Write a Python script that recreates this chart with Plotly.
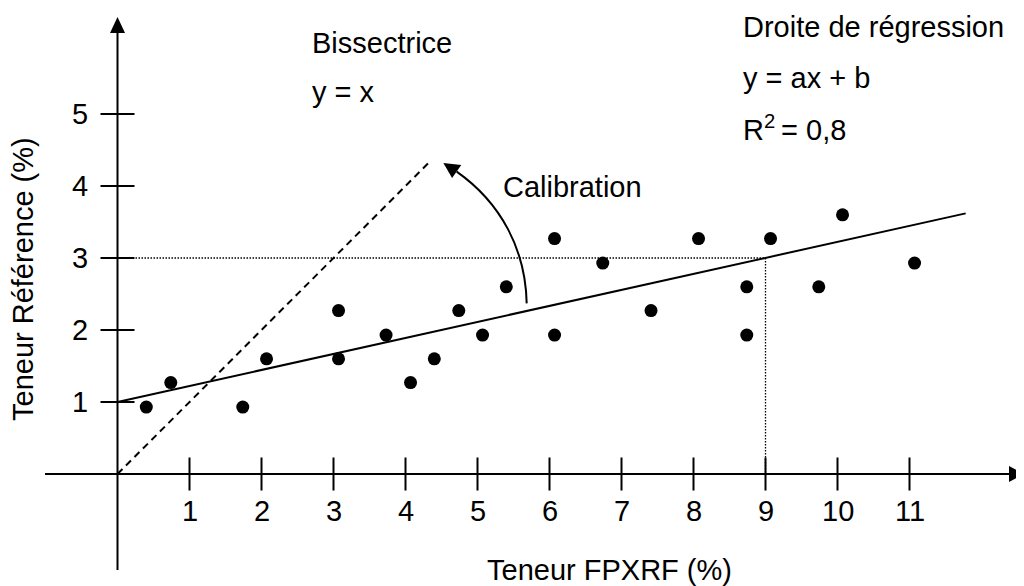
import plotly.graph_objects as go

# ---------------- data ----------------
fpxrf = [0.40, 0.74, 1.74, 2.07, 3.07, 3.07, 3.73, 4.07, 4.40, 4.74, 5.07, 5.40,
         6.07, 6.07, 6.74, 7.41, 8.07, 8.74, 8.74, 9.07, 9.74, 10.07, 11.07]
reference = [0.93, 1.27, 0.93, 1.60, 2.27, 1.60, 1.93, 1.27, 1.60, 2.27, 1.93, 2.60,
             3.27, 1.93, 2.93, 2.27, 3.27, 2.60, 1.93, 3.27, 2.60, 3.60, 2.93]

x_ticks = [1, 2, 3, 4, 5, 6, 7, 8, 9, 10, 11]
x_tick_labels = ["1", "2", "3", "4", "5", "6", "7", "8", "9", "10", "11"]
y_ticks = [1, 2, 3, 4, 5]
y_tick_labels = ["1", "2", "3", "4", "5"]

regression_x = [0.0, 11.78]
regression_y = [1.0, 3.62]
bisector_x = [0.0, 4.33]
bisector_y = [0.0, 4.33]
guide_h_x = [0.0, 9.0]
guide_h_y = [3.0, 3.0]
guide_v_x = [9.0, 9.0]
guide_v_y = [3.0, 0.0]

x_title = "Teneur FPXRF (%)"
y_title = "Teneur Référence (%)"

# ---------------- layout geometry ----------------
PAGE_W, PAGE_H = 1024, 586
OFF = 8  # default page margin around the figure
W, H = PAGE_W - OFF, PAGE_H - OFF
OX, OY, S = 117.5 - OFF, 474.0 - OFF, 72.0  # origin (figure px) and px per unit


def px2x(px):
    """page pixel -> data x"""
    return (px - OFF - OX) / S


def py2y(py):
    """page pixel -> data y"""
    return (OY - (py - OFF)) / S


FONT = dict(family="Liberation Sans, Arial, Helvetica, sans-serif", size=29, color="black")

fig = go.Figure()

# dotted guides
for gx, gy in ((guide_h_x, guide_h_y), (guide_v_x, guide_v_y)):
    fig.add_trace(go.Scatter(x=gx, y=gy, mode="lines",
                             line=dict(color="black", width=1.3, dash="1.5px,1.5px"),
                             hoverinfo="skip", showlegend=False))

# bisector
fig.add_trace(go.Scatter(x=bisector_x, y=bisector_y, mode="lines",
                         line=dict(color="black", width=2, dash="7px,5px"),
                         hoverinfo="skip", showlegend=False))

# regression line
fig.add_trace(go.Scatter(x=regression_x, y=regression_y, mode="lines",
                         line=dict(color="black", width=2),
                         hoverinfo="skip", showlegend=False))

# points
fig.add_trace(go.Scatter(x=fpxrf, y=reference, mode="markers",
                         marker=dict(color="black", size=13, line=dict(width=0)),
                         showlegend=False))

# ticks
fig.add_trace(go.Scatter(x=x_ticks, y=[0] * len(x_ticks), mode="markers",
                         marker=dict(symbol="line-ns-open", size=33 / 1.4, color="black",
                                     line=dict(color="black", width=2)),
                         hoverinfo="skip", showlegend=False))
fig.add_trace(go.Scatter(x=[0] * len(y_ticks), y=y_ticks, mode="markers",
                         marker=dict(symbol="line-ew-open", size=34 / 1.4, color="black",
                                     line=dict(color="black", width=2)),
                         hoverinfo="skip", showlegend=False))

# axes lines
fig.add_shape(type="line", x0=px2x(45), y0=0, x1=px2x(1011), y1=0,
              line=dict(color="black", width=2))
fig.add_shape(type="line", x0=0, y0=py2y(570), x1=0, y1=py2y(32),
              line=dict(color="black", width=2))

# arrowheads on axes
xb, xt, hw = px2x(1009), px2x(1023.5), 8 / S
fig.add_shape(type="path",
              path=f"M {xb},{hw} L {xt},0 L {xb},{-hw} Z",
              fillcolor="black", line=dict(width=0))
yb, yt, hw2 = py2y(33), py2y(17), 7.5 / S
fig.add_shape(type="path",
              path=f"M {-hw2},{yb} L 0,{yt} L {hw2},{yb} Z",
              fillcolor="black", line=dict(width=0))

# calibration arc (cubic Bezier) and its arrowhead
p0 = (5.683, 2.37)
p1 = (5.668, 3.12)
p2 = (5.324, 3.768)
p3 = (4.711, 4.200)
fig.add_shape(type="path",
              path=f"M {p0[0]},{p0[1]} C {p1[0]},{p1[1]} {p2[0]},{p2[1]} {p3[0]},{p3[1]}",
              line=dict(color="black", width=2))
fig.add_shape(type="path",
              path="M 4.526,4.32 L 4.775,4.29 L 4.647,4.11 Z",
              fillcolor="black", line=dict(width=0))

# tick labels
for v, lab in zip(x_ticks, x_tick_labels):
    fig.add_annotation(x=v, y=0, text=lab, showarrow=False, xanchor="center",
                       yanchor="middle", yshift=-(511 - 474), font=FONT)
for v, lab in zip(y_ticks, y_tick_labels):
    fig.add_annotation(x=0, y=v, text=lab, showarrow=False, xanchor="right",
                       yanchor="middle", xshift=-(117.5 - 90), font=FONT)

# texts (positions in page pixels)
texts = [
    ("Bissectrice", 310, 43),
    ("y = x", 310, 92),
    ("Droite de régression", 741, 27),
    ("y = ax + b", 741, 78),
    ("R<sup>2</sup>\u2009= 0,8", 741, 128),
    ("Calibration", 501, 187),
    (x_title, 485, 570),
]
for t, px, py in texts:
    fig.add_annotation(x=(px - OFF) / W, y=1 - (py - OFF) / H, xref="paper", yref="paper",
                       text=t, showarrow=False, xanchor="left", yanchor="middle", font=FONT)
fig.add_annotation(x=(23 - OFF) / W, y=1 - (279 - OFF) / H, xref="paper", yref="paper",
                   text=y_title, textangle=-90, showarrow=False, xanchor="center",
                   yanchor="middle", font=FONT)

fig.update_layout(
    width=W, height=H,
    margin=dict(l=0, r=0, t=0, b=0),
    paper_bgcolor="white", plot_bgcolor="white",
    xaxis=dict(range=[-OX / S, (W - OX) / S], visible=False, fixedrange=True),
    yaxis=dict(range=[(OY - H) / S, OY / S], visible=False, fixedrange=True),
    showlegend=False,
)

fig.write_html("out.html")
